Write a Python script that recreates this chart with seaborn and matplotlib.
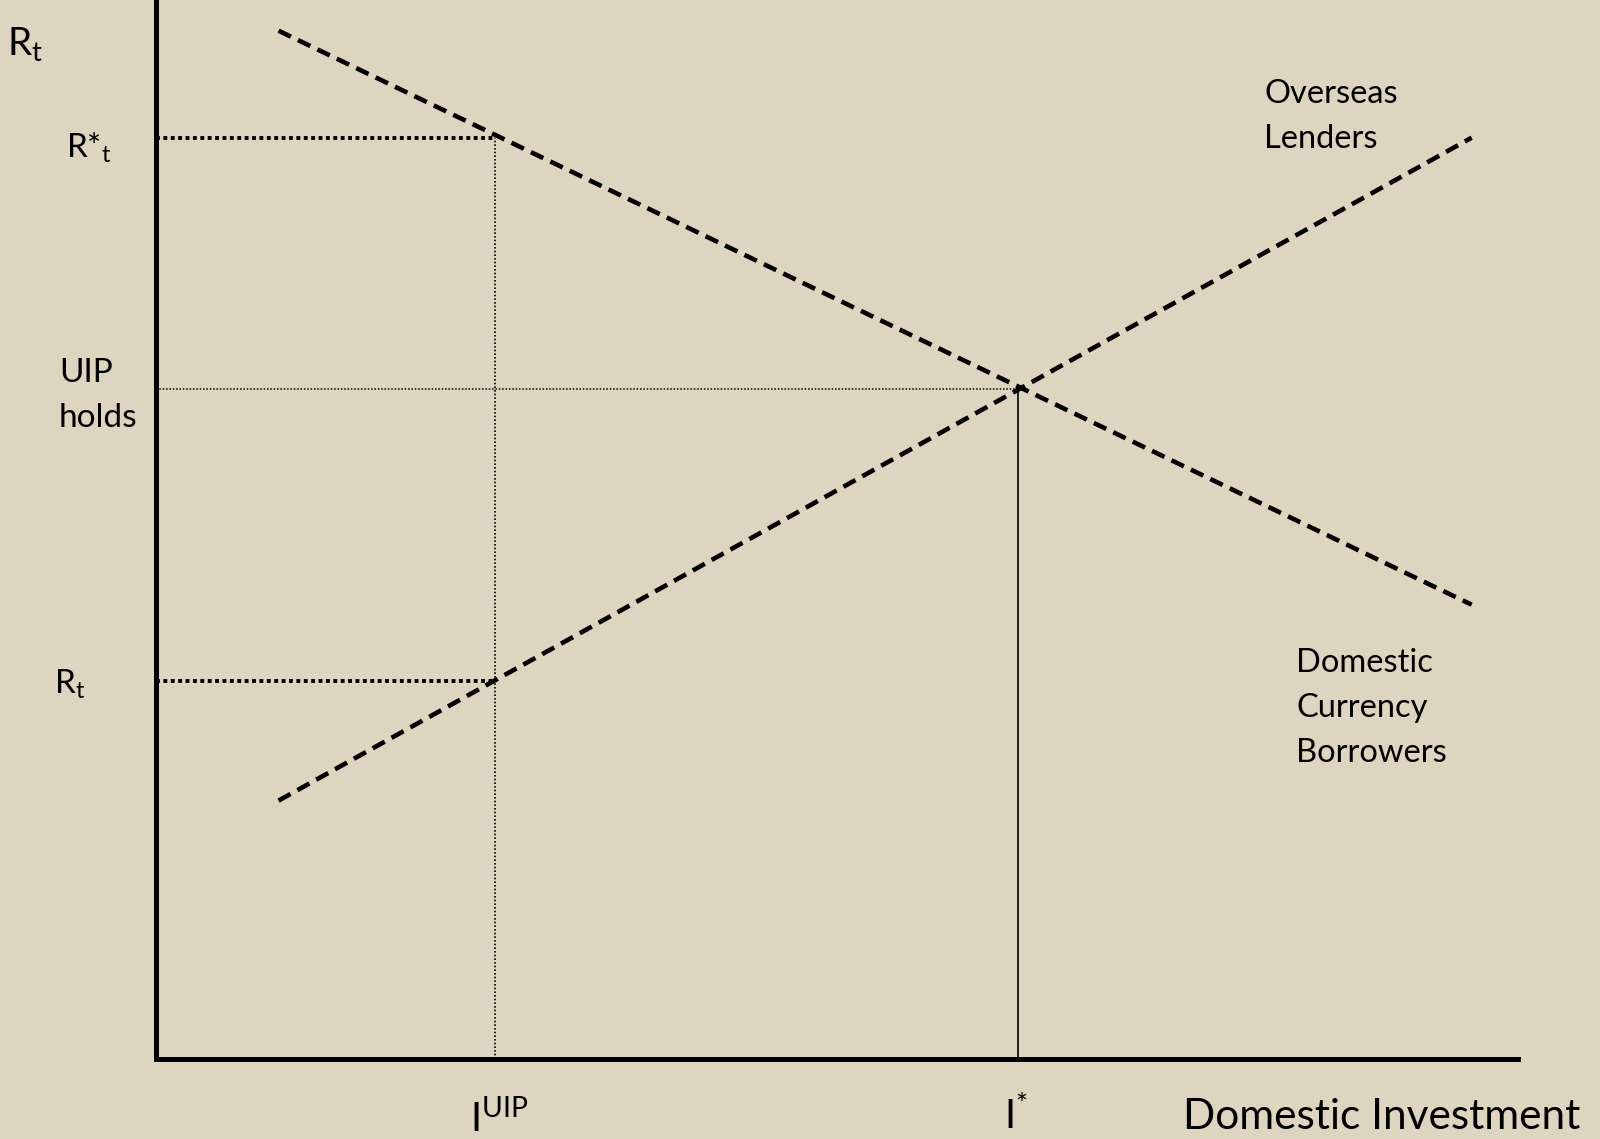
import matplotlib.pyplot as plt
import seaborn as sns
import pandas as pd

# end points of the two schedules (investment, interest rate)
lenders_x = [0.90, 9.66]
lenders_y = [9.71, 4.29]
borrowers_x = [0.90, 9.66]
borrowers_y = [2.44, 8.70]

# reference levels
i_uip = 2.49      # I^UIP
i_star = 6.33     # I*
r_star = 8.70     # R*_t
r_uip = 6.33      # UIP holds
r_low = 3.57      # R_t

sns.set_theme(style="white")
plt.rcParams['font.family'] = ['Lato', 'DejaVu Sans']
plt.rcParams['mathtext.fontset'] = 'custom'
plt.rcParams['mathtext.rm'] = 'Lato'
plt.rcParams['mathtext.it'] = 'Lato:italic'
plt.rcParams['mathtext.bf'] = 'Lato:bold'

bg = '#DED5C1'
fig = plt.figure(figsize=(16, 11.39), dpi=100, facecolor=bg)
ax = fig.add_axes([0, 0, 1, 1])
ax.set_facecolor(bg)

df_lend = pd.DataFrame({'investment': lenders_x, 'rate': lenders_y})
df_borr = pd.DataFrame({'investment': borrowers_x, 'rate': borrowers_y})
sns.lineplot(data=df_lend, x='investment', y='rate', color='black', lw=3.3,
             linestyle=(0, (3, 1.7)), ax=ax)
sns.lineplot(data=df_borr, x='investment', y='rate', color='black', lw=3.3,
             linestyle=(0, (3, 1.7)), ax=ax)

# guide lines
ax.plot([0, i_uip], [r_star, r_star], color='black', lw=2.8, linestyle=(0, (1, 0.9)))
ax.plot([0, i_uip], [r_low, r_low], color='black', lw=2.8, linestyle=(0, (1, 0.9)))
ax.plot([i_uip, i_uip], [0, r_star], color='black', lw=1.2, linestyle=(0, (1, 1.2)))
ax.plot([0, i_star], [r_uip, r_uip], color='black', lw=1.1, linestyle=(0, (1, 1.2)))
ax.plot([i_star, i_star], [0, r_uip], color='black', lw=1.2)

# axes
ax.set_xlim(-1.145, 10.602)
ax.set_ylim(-0.755, 10.0)
for side in ['top', 'right']:
    ax.spines[side].set_visible(False)
ax.spines['left'].set_position(('data', 0))
ax.spines['left'].set_bounds(0, 10)
ax.spines['bottom'].set_position(('data', 0))
ax.spines['bottom'].set_bounds(0, 10)
for side in ['left', 'bottom']:
    ax.spines[side].set_linewidth(3.6)
    ax.spines[side].set_color('black')
ax.set_xticks([])
ax.set_yticks([])
ax.set_xlabel(None)
ax.set_ylabel(None)


def put(x, y, s, size):
    fig.text(x / 1600, 1 - y / 1139, s, fontsize=size, ha='left', va='baseline', color='black')


put(7, 55, r'R$_\mathrm{t}$', 28)
put(66, 158, r'R*$_\mathrm{t}$', 24)
put(59, 382, 'UIP', 24)
put(59, 427, 'holds', 24)
put(54, 694, r'R$_\mathrm{t}$', 24)
put(1264, 103, 'Overseas', 23.5)
put(1264, 148, 'Lenders', 23.5)
put(1296, 672, 'Domestic', 23.5)
put(1296, 717, 'Currency', 23.5)
put(1296, 762, 'Borrowers', 23.5)
put(470, 1132, r'I$^\mathrm{UIP}$', 29)
put(1004, 1130, r'I$^\mathrm{*}$', 29)
put(1183, 1129, 'Domestic Investment', 30.5)

fig.savefig('out.png', dpi=100, facecolor=bg)
